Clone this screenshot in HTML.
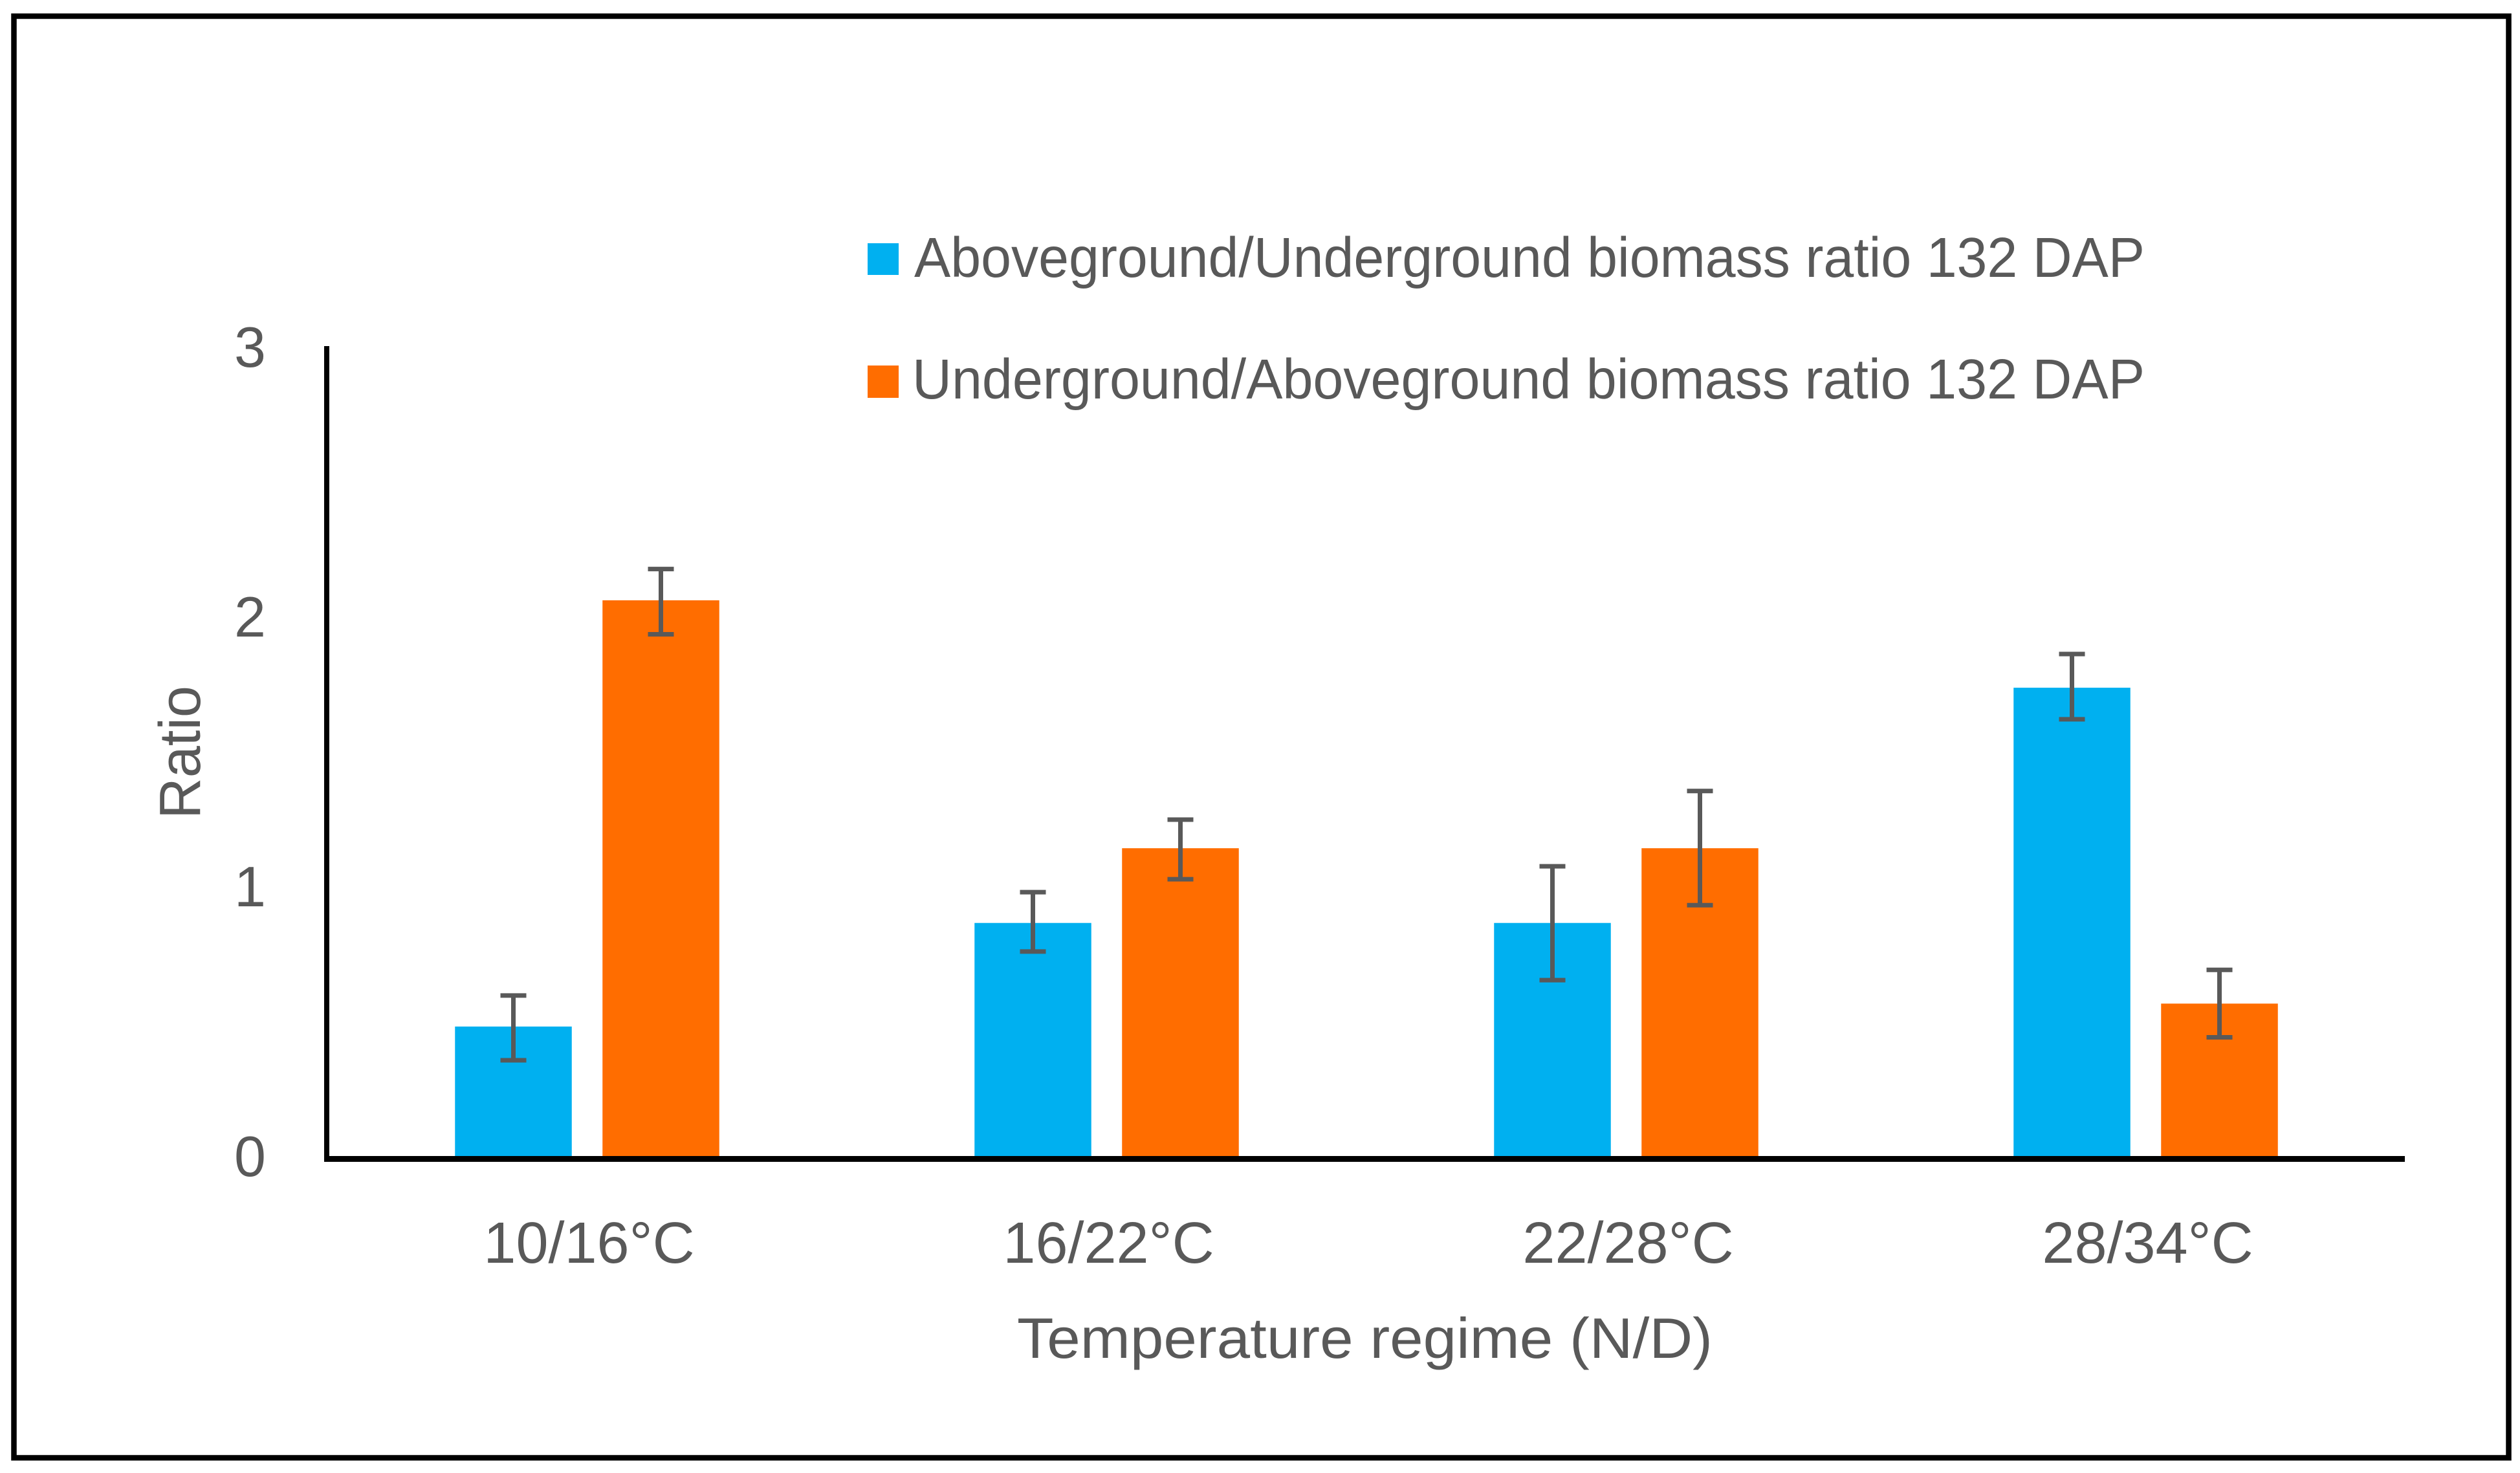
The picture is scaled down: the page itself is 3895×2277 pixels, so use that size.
<!DOCTYPE html>
<html lang="en">
<head>
<meta charset="utf-8">
<title>Biomass ratio by temperature regime</title>
<style>
  html, body { margin: 0; padding: 0; background: #ffffff; }
  svg { display: block; }
  text { font-family: "Liberation Sans", "DejaVu Sans", sans-serif; fill: #595959; }
</style>
</head>
<body>
<svg id="chart" xmlns="http://www.w3.org/2000/svg" width="3895" height="2277" viewBox="0 0 3895 2277">
  <rect x="0" y="0" width="3895" height="2277" fill="#ffffff"></rect>
  <rect x="21.5" y="25" width="3856" height="2228.5" fill="none" stroke="#000000" stroke-width="8.5"></rect>
  <g id="bars"></g>
  <g id="errors"></g>
  <g id="axes"></g>
  <g>
    <g>
      <rect x="1341" y="376" width="48" height="49" fill="#00B0F0"></rect>
      <text x="1413" y="428" font-size="87" textLength="1902" lengthAdjust="spacingAndGlyphs">Aboveground/Underground biomass ratio 132 DAP</text>
    </g>
    <g>
      <rect x="1341" y="565" width="48" height="50" fill="#FF6D00"></rect>
      <text x="1410" y="616" font-size="87" textLength="1905" lengthAdjust="spacingAndGlyphs">Underground/Aboveground biomass ratio 132 DAP</text>
    </g>
  </g>
  <text x="1572" y="2099" font-size="88" textLength="1075" lengthAdjust="spacingAndGlyphs">Temperature regime (N/D)</text>
  <text transform="translate(309 1163) rotate(-90)" text-anchor="middle" font-size="90" textLength="206" lengthAdjust="spacingAndGlyphs">Ratio</text>
</svg>
<script>
const categories = ["10/16°C", "16/22°C", "22/28°C", "28/34°C"];
const aboveUnder = [0.48, 0.864, 0.864, 1.736];
const underAbove = [2.06, 1.141, 1.141, 0.565];
const aboveUnderErrHigh = [0.595, 0.978, 1.074, 1.861];
const aboveUnderErrLow = [0.355, 0.758, 0.652, 1.619];
const underAboveErrHigh = [2.176, 1.247, 1.353, 0.69];
const underAboveErrLow = [1.934, 1.026, 0.93, 0.44];
const yTicks = [0, 1, 2, 3];

const NS = "http://www.w3.org/2000/svg";
const plotLeft = 506, plotRight = 3718, baseY = 1787, unitPx = 417;
const band = (plotRight - plotLeft) / categories.length;
const barW = 180.5, barOffset = 114;

function xCenter(i) { return plotLeft + band * (i + 0.5); }
function yPos(v) { return baseY - unitPx * v; }
function make(tag, parent) {
  const el = document.createElementNS(NS, tag);
  parent.appendChild(el);
  return el;
}
function setLine(el, x1, y1, x2, y2, color, width) {
  el.setAttribute("x1", x1);
  el.setAttribute("y1", y1);
  el.setAttribute("x2", x2);
  el.setAttribute("y2", y2);
  el.setAttribute("stroke", color);
  el.setAttribute("stroke-width", width);
}

const barsLayer = document.getElementById("bars");
const errorsLayer = document.getElementById("errors");
const axesLayer = document.getElementById("axes");

function drawSeries(values, high, low, offset, color, key) {
  values.forEach(function (v, i) {
    const cx = xCenter(i) + offset;
    const bar = make("rect", barsLayer);
    
    
    bar.setAttribute("x", cx - barW / 2);
    bar.setAttribute("y", yPos(v));
    bar.setAttribute("width", barW);
    bar.setAttribute("height", baseY - yPos(v));
    bar.setAttribute("fill", color);

    const err = make("g", errorsLayer);
    
    
    setLine(make("line", err), cx, yPos(high[i]), cx, yPos(low[i]), "#595959", 7);
    setLine(make("line", err), cx - 20, yPos(high[i]), cx + 20, yPos(high[i]), "#595959", 7);
    setLine(make("line", err), cx - 20, yPos(low[i]), cx + 20, yPos(low[i]), "#595959", 7);
  });
}
drawSeries(aboveUnder, aboveUnderErrHigh, aboveUnderErrLow, -barOffset, "#00B0F0", "above-under");
drawSeries(underAbove, underAboveErrHigh, underAboveErrLow, barOffset, "#FF6D00", "under-above");

const yAxis = make("line", axesLayer);


setLine(yAxis, 505, yPos(yTicks[yTicks.length - 1]) - 1, 505, baseY + 8, "#000000", 8);

const xAxis = make("line", axesLayer);


setLine(xAxis, 501, baseY + 4.5, 3717, baseY + 4.5, "#000000", 9);

yTicks.forEach(function (t) {
  const label = make("text", axesLayer);
  
  
  label.setAttribute("x", 411);
  label.setAttribute("y", yPos(t) + 31);
  label.setAttribute("text-anchor", "end");
  label.setAttribute("font-size", 88);
  label.textContent = String(t);
});

categories.forEach(function (c, i) {
  const label = make("text", axesLayer);
  
  
  label.setAttribute("x", xCenter(i) + 3);
  label.setAttribute("y", 1952);
  label.setAttribute("text-anchor", "middle");
  label.setAttribute("font-size", 90);
  label.textContent = c;
});
</script>
</body>
</html>
